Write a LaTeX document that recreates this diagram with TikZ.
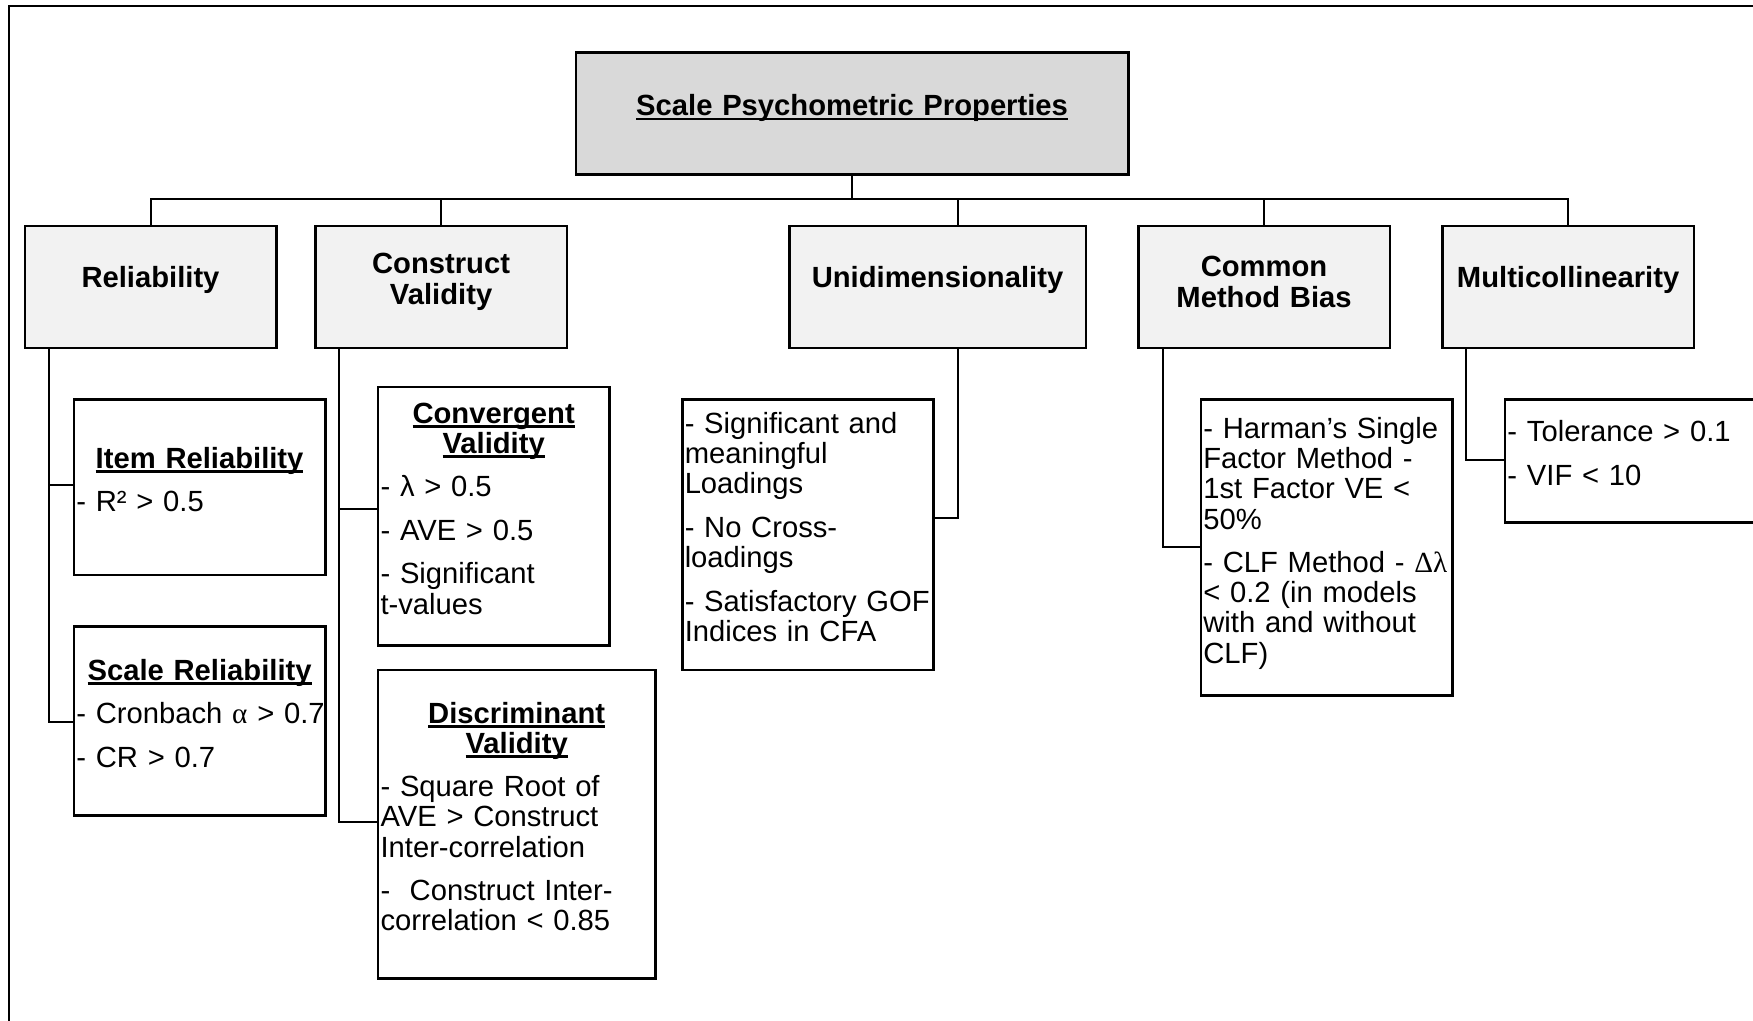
\documentclass[tikz,border=0pt]{standalone}
\usepackage{fontspec}
\setmainfont{Liberation Sans}
\newfontfamily\grk{Liberation Serif}
\usetikzlibrary{calc}
\definecolor{rootgray}{HTML}{D9D9D9}
\definecolor{catgray}{HTML}{F2F2F2}
\setlength{\parindent}{0pt}
\hyphenpenalty=10000
\exhyphenpenalty=10000
% underline drawn close under the baseline, crossing descenders
\newcommand{\undl}[1]{\leavevmode\setbox0=\hbox{#1}\rlap{\vrule height -1.9pt depth 4.6pt width \wd0}\box0}
\newcommand{\itemgap}{\par\vskip13.3pt\relax}
\newcommand{\nl}{\par}
% extra space under the text block, so it sits a little above the box centre
\newcommand{\liftend}[1][15pt]{\par\vskip#1\hrule height 0pt width 0pt\relax}
\begin{document}
\begin{tikzpicture}[x=1pt,y=-1pt,
  basefont/.style={font=\fontsize{29.2}{30.2}\selectfont},
  box/.style={draw, line width=2.5pt, anchor=north west, basefont, inner ysep=0pt},
  rootbox/.style={box, fill=rootgray, align=center, inner xsep=3pt,
    font=\fontsize{29.2}{30.2}\selectfont\bfseries},
  catbox/.style={box, fill=catgray, align=center, inner xsep=3pt,
    font=\fontsize{29.2}{30.2}\selectfont\bfseries},
  infobox/.style={box, fill=white, align=left, inner xsep=2.5pt},
  conn/.style={line width=2pt}
]
\path[use as bounding box] (0,0) rectangle (1753,1020);
\clip (0,0) rectangle (1753,1020);

% outer frame
\draw[line width=2.7pt] (9,1040) -- (9,6) -- (1770,6);

% top level
\node[rootbox, minimum width=552.3pt, text width=546.3pt, minimum height=121.9pt] (root) at (574.7,51.4)
  {\undl{Scale Psychometric Properties}\liftend[11pt]};

% categories
\node[catbox, minimum width=251.5pt, text width=245.5pt, minimum height=121.9pt] (rel) at (23.5,224.7)
  {Reliability\liftend[13pt]};
\node[catbox, minimum width=251.7pt, text width=245.7pt, minimum height=121.9pt] (cv) at (314,224.7)
  {Construct\nl Validity\liftend[10pt]};
\node[catbox, minimum width=296.5pt, text width=290.5pt, minimum height=121.9pt] (uni) at (788,224.7)
  {Unidimensionality\liftend[13pt]};
\node[catbox, minimum width=251.6pt, text width=245.6pt, minimum height=121.9pt] (cmb) at (1137,224.7)
  {Common\nl Method Bias\liftend[10pt]};
\node[catbox, minimum width=251.7pt, text width=245.7pt, minimum height=121.9pt] (mul) at (1441,224.7)
  {Multicollinearity\liftend[13pt]};

% criteria
\node[infobox, minimum width=251.3pt, text width=246.3pt, minimum height=175.5pt] (item) at (72.7,398)
  {{\centering\bfseries\undl{Item Reliability}\nl}\itemgap
   - R² > 0.5\liftend};
\node[infobox, minimum width=251.3pt, text width=246.3pt, minimum height=189pt] (scale) at (72.7,625)
  {{\centering\bfseries\undl{Scale Reliability}\nl}\itemgap
   \mbox{- Cronbach {\grk α} > 0.7}\itemgap
   - CR > 0.7\liftend};
\node[infobox, minimum width=231.2pt, text width=226.2pt, minimum height=258.3pt] (conv) at (376.8,385.7)
  {{\centering\bfseries\undl{Convergent}\nl\undl{Validity}\nl}\itemgap
   - λ > 0.5\itemgap
   - AVE > 0.5\itemgap
   - Significant\\t-values\liftend};
\node[infobox, minimum width=277.2pt, text width=272.2pt, minimum height=308.4pt] (disc) at (376.8,668.6)
  {{\centering\bfseries\undl{Discriminant}\nl\undl{Validity}\nl}\itemgap
   - Square Root of\\AVE > Construct\\Inter-correlation\itemgap
   -~~Construct Inter-\\correlation < 0.85\liftend};
\node[infobox, minimum width=251.4pt, text width=246.4pt, minimum height=270.6pt] (unic) at (681,398)
  {- Significant and\\meaningful\\Loadings\itemgap
   - No Cross-\\loadings\itemgap
   - Satisfactory GOF\\Indices in CFA\liftend};
\node[infobox, minimum width=251.4pt, text width=246.4pt, minimum height=296pt] (cmbc) at (1199.6,398)
  {- Harman’s Single\\Factor Method -\\1st Factor VE <\\50\%\itemgap
   \mbox{- CLF Method - {\grk Δλ}}\\< 0.2 (in models\\with and without\\CLF)\liftend[8pt]};
\node[infobox, minimum width=270pt, text width=265pt, minimum height=123pt] (mulc) at (1503.7,398)
  {- Tolerance > 0.1\itemgap
   - VIF < 10\liftend};

% tree connectors
\coordinate (bus) at (0,199);
\draw[conn] (root.south) -- (root.south |- bus);
\draw[conn] (rel.north) -- (rel.north |- bus) -- (mul.north |- bus) -- (mul.north);
\draw[conn] (cv.north) -- (cv.north |- bus);
\draw[conn] (cmb.north) -- (cmb.north |- bus);
\coordinate (uniJ) at (958,517.6);
\draw[conn] (uni.north -| uniJ) -- (bus -| uniJ);
\draw[conn] (uni.south -| uniJ) -- (uniJ) -- (uniJ -| unic.east);

\coordinate (relA) at (49,485);
\coordinate (relB) at (49,722);
\draw[conn] (rel.south -| relA) -- (relB) -- (relB -| scale.west);
\draw[conn] (relA) -- (relA -| item.west);

\coordinate (cvA) at (338.7,508.7);
\coordinate (cvB) at (338.7,821.7);
\draw[conn] (cv.south -| cvA) -- (cvB) -- (cvB -| disc.west);
\draw[conn] (cvA) -- (cvA -| conv.west);

\coordinate (cmbJ) at (1162.7,546.7);
\draw[conn] (cmb.south -| cmbJ) -- (cmbJ) -- (cmbJ -| cmbc.west);

\coordinate (mulJ) at (1465.7,459.5);
\draw[conn] (mul.south -| mulJ) -- (mulJ) -- (mulJ -| mulc.west);
\end{tikzpicture}
\end{document}
